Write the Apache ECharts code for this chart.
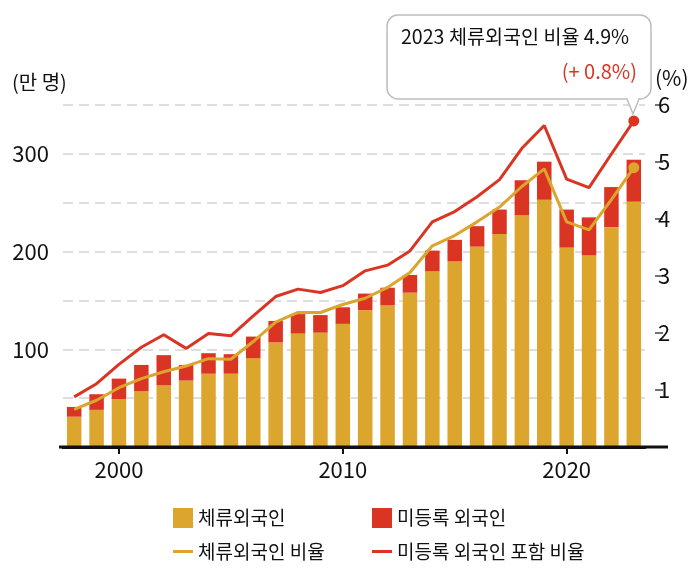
<!DOCTYPE html>
<html>
<head>
<meta charset="utf-8">
<script src="https://cdn.jsdelivr.net/npm/echarts@6/dist/echarts.min.js"></script>
<style>
  html, body { margin: 0; padding: 0; background: #fff; }
  #chart { width: 699px; height: 588px; }
</style>
</head>
<body>
<div id="chart"></div>
<script>
// years on the x axis
const years = ['1998', '1999', '2000', '2001', '2002', '2003', '2004', '2005', '2006', '2007', '2008', '2009', '2010',
  '2011', '2012', '2013', '2014', '2015', '2016', '2017', '2018', '2019', '2020', '2021', '2022', '2023'];

// 체류외국인 (만 명)
const residents = [31, 38, 49, 57, 63, 68, 75, 75, 91, 107, 116, 117, 126,
  140, 145, 158, 180, 190, 205, 218, 237, 253, 204, 196, 225, 251];

// 미등록 외국인 (만 명), stacked on top
const unregistered = [10, 16, 21, 27, 31, 16, 21, 20, 22, 22, 20, 18, 17,
  17, 18, 18, 21, 22, 21, 25, 36, 39, 39, 39, 41, 43];

// ratios (%)
const residentRatio = [0.66, 0.82, 1.04, 1.20, 1.32, 1.42, 1.55, 1.54, 1.85, 2.19, 2.36, 2.36, 2.50,
  2.61, 2.80, 3.06, 3.53, 3.71, 3.95, 4.21, 4.57, 4.88, 3.95, 3.81, 4.34, 4.90];
const totalRatio = [0.88, 1.11, 1.45, 1.75, 1.97, 1.73, 1.99, 1.95, 2.30, 2.64, 2.77, 2.71, 2.83,
  3.09, 3.19, 3.44, 3.95, 4.13, 4.39, 4.69, 5.24, 5.64, 4.70, 4.55, 5.14, 5.72];

const tickYears = ['2000', '2010', '2020'];

const YELLOW = '#DCA52E';
const RED = '#DA3523';
const FONT = "'Noto Sans CJK KR', 'Noto Sans', sans-serif";

const chart = echarts.init(document.getElementById('chart'));

// only the last point of each line gets a dot
const lineData = (vals) => vals.map((v, i) => i === vals.length - 1
  ? { value: v, symbol: 'circle', symbolSize: 11 }
  : v);
const onDecade = (i) => tickYears.includes(years[i]);

const GRID = { left: 63, right: 54, top: 105, bottom: 141 };
const baseY = 588 - GRID.bottom;

chart.setOption({
  animation: false,
  grid: GRID,
  legend: [
    { data: ['체류외국인'], left: 173, top: 508 },
    { data: ['미등록 외국인'], left: 372, top: 508 },
    { data: ['체류외국인 비율'], left: 173, top: 542, itemHeight: 3 },
    { data: ['미등록 외국인 포함 비율'], left: 372, top: 542, itemHeight: 3 }
  ].map(l => Object.assign({
    icon: 'rect', itemWidth: 20, itemHeight: 20, itemGap: 8, padding: 0,
    selectedMode: false,
    textStyle: { fontFamily: FONT, fontSize: 19, color: '#111' }
  }, l)),
  xAxis: {
    type: 'category',
    data: years,
    axisLine: { show: true, lineStyle: { color: '#111', width: 3 } },
    axisTick: { show: true, alignWithLabel: true, interval: onDecade, length: 7, lineStyle: { color: '#111', width: 2 } },
    axisLabel: { interval: onDecade, margin: 12, fontFamily: FONT, fontSize: 22, color: '#111' }
  },
  yAxis: [
    {
      type: 'value', min: 0, max: 350, interval: 50,
      name: '(만 명)', nameLocation: 'end', nameGap: 13,
      nameTextStyle: { fontFamily: FONT, fontSize: 20, color: '#111', align: 'left', padding: [0, 0, 0, -51] },
      axisLine: { show: false },
      axisTick: { show: false },
      axisLabel: {
        margin: 14, fontFamily: FONT, fontSize: 22, color: '#111',
        formatter: v => (v > 0 && v % 100 === 0) ? String(v) : ''
      },
      splitLine: { show: true, lineStyle: { color: '#d4d4d4', width: 1.5, type: [10, 6] } }
    },
    {
      type: 'value', min: 0, max: 6, interval: 1, position: 'right', offset: 10,
      name: '(%)', nameLocation: 'end', nameGap: 16,
      nameTextStyle: { fontFamily: FONT, fontSize: 21, color: '#111', align: 'left', padding: [0, 0, 0, 0] },
      axisLine: { show: false },
      axisTick: { show: true, length: 8, lineStyle: { color: '#444', width: 1.5 } },
      axisLabel: {
        margin: 3, fontFamily: FONT, fontSize: 22, color: '#111',
        formatter: v => v > 0 ? String(v) : ''
      },
      splitLine: { show: false }
    }
  ],
  series: [
    {
      name: '체류외국인', type: 'bar', stack: 'people', barWidth: 14.5,
      itemStyle: { color: YELLOW },
      data: residents
    },
    {
      name: '미등록 외국인', type: 'bar', stack: 'people', barWidth: 14.5,
      itemStyle: { color: RED },
      data: unregistered
    },
    {
      name: '체류외국인 비율', type: 'line', yAxisIndex: 1,
      symbol: 'none', showSymbol: true,
      itemStyle: { color: YELLOW }, lineStyle: { color: YELLOW, width: 3 },
      data: lineData(residentRatio), z: 5
    },
    {
      name: '미등록 외국인 포함 비율', type: 'line', yAxisIndex: 1,
      symbol: 'none', showSymbol: true,
      itemStyle: { color: RED }, lineStyle: { color: RED, width: 3 },
      data: lineData(totalRatio), z: 5
    }
  ],
  graphic: [
    // the baseline runs a little past the plot area on both sides
    {
      type: 'line', z: 3,
      shape: { x1: 59, y1: baseY, x2: 668, y2: baseY },
      style: { stroke: '#111', lineWidth: 3 }
    },
    // callout box for the 2023 value
    {
      type: 'rect', z: 10,
      shape: { x: 387, y: 15, width: 264, height: 84, r: 11 },
      style: { fill: '#fff', stroke: '#bdbdbd', lineWidth: 1.5 }
    },
    {
      type: 'polyline', z: 11,
      shape: { points: [[627, 99], [633, 114], [639, 99]] },
      style: { fill: '#fff', stroke: '#bdbdbd', lineWidth: 1.5 }
    },
    {
      type: 'rect', z: 12,
      shape: { x: 628, y: 97, width: 10, height: 3 },
      style: { fill: '#fff' }
    },
    {
      type: 'text', z: 13, left: 401, top: 27,
      style: { text: '2023 체류외국인 비율 4.9%', fontFamily: FONT, fontSize: 19.6, fill: '#111' }
    },
    {
      type: 'text', z: 13, right: 62, top: 61,
      style: { text: '(+ 0.8%)', fontFamily: FONT, fontSize: 20, fill: RED }
    }
  ]
});
</script>
</body>
</html>
